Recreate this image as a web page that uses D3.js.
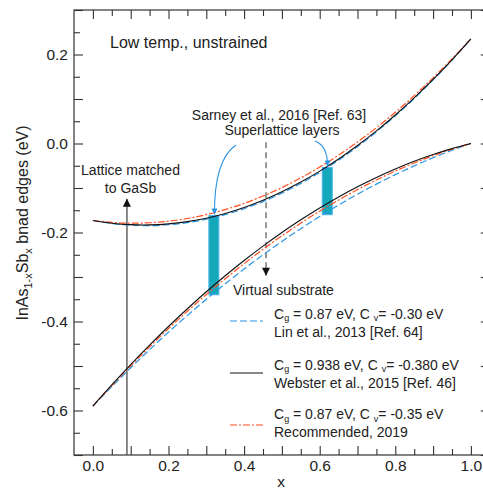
<!DOCTYPE html>
<html>
<head>
<meta charset="utf-8">
<script src="https://cdn.jsdelivr.net/npm/d3@7"></script>
<style>
  body { margin: 0; background: #fff; }
  svg { display: block; font-family: Arial, "Liberation Sans", sans-serif; }
  text { fill: #222; }
</style>
</head>
<body>
<svg id="chart"></svg>
<script>
// composition x
const xs = [0, 0.05, 0.1, 0.15, 0.2, 0.25, 0.3, 0.35, 0.4, 0.45, 0.5,
            0.55, 0.6, 0.65, 0.7, 0.75, 0.8, 0.85, 0.9, 0.95, 1.0]

// conduction band edge (eV)
const ecLin = [-0.173, -0.1797, -0.1835, -0.1845, -0.1826, -0.1779, -0.1703, -0.1599, -0.1466, -0.1305, -0.1115,
               -0.0897, -0.065, -0.0375, -0.0071, 0.0261, 0.0622, 0.1011, 0.1429, 0.1875, 0.235]
const ecWeb = [-0.173, -0.1791, -0.1824, -0.1829, -0.1807, -0.1756, -0.1678, -0.1571, -0.1437, -0.1275, -0.1085,
               -0.0867, -0.0621, -0.0347, -0.0046, 0.0284, 0.0641, 0.1027, 0.144, 0.1881, 0.235]
const ecRec = [-0.173, -0.1773, -0.179, -0.1781, -0.1746, -0.1685, -0.1598, -0.1485, -0.1346, -0.1181, -0.099,
               -0.0773, -0.053, -0.0261, 0.0034, 0.0355, 0.0702, 0.1075, 0.1474, 0.1899, 0.235]

// valence band edge (eV)
const evLin = [-0.59, -0.5463, -0.504, -0.4633, -0.424, -0.3863, -0.35, -0.3153, -0.282, -0.2503, -0.22,
               -0.1913, -0.164, -0.1383, -0.114, -0.0913, -0.07, -0.0503, -0.032, -0.0153, 0]
const evWeb = [-0.59, -0.5425, -0.4968, -0.4531, -0.4112, -0.3713, -0.3332, -0.2971, -0.2628, -0.2305, -0.2,
               -0.1715, -0.1448, -0.12, -0.0972, -0.0763, -0.0572, -0.04, -0.0248, -0.0115, 0]
const evRec = [-0.59, -0.5439, -0.4995, -0.4569, -0.416, -0.3769, -0.3395, -0.3039, -0.27, -0.2379, -0.2075,
               -0.1789, -0.152, -0.1269, -0.1035, -0.0819, -0.062, -0.0439, -0.0275, -0.0129, 0]

// superlattice layers (Sarney et al.)
const slX = [0.32, 0.62]
const slTop = [-0.162, -0.054]
const slBottom = [-0.340, -0.160]

const xLabelTicks = [0, 0.2, 0.4, 0.6, 0.8, 1.0]
const yLabelTicks = [-0.6, -0.4, -0.2, 0.0, 0.2]

const W = 483, H = 489
const colors = {lin: '#2b95e3', web: '#111', rec: '#ff4f1f', bar: '#15a8bb', barEdge: '#4db4ea', note: '#2b95e3'}
const dashLin = '7,3', dashRec = '7,2,2,2'

const svg = d3.select('#chart').attr('width', W).attr('height', H)

const x = d3.scaleLinear().domain([-0.05, 1.05]).range([74, 489.8])
const y = d3.scaleLinear().domain([-0.7, 0.3]).range([455, 10])

// defs: arrowheads
const defs = svg.append('defs')
function marker(id, color, w, h) {
    defs.append('marker')
        .attr('id', id)
        .attr('viewBox', '0 0 10 10')
        .attr('refX', 10).attr('refY', 5)
        .attr('markerUnits', 'userSpaceOnUse')
        .attr('markerWidth', w).attr('markerHeight', h)
        .attr('orient', 'auto')
        .append('path')
        .attr('d', 'M0,0 L10,5 L0,10 Z')
        .attr('fill', color)
}
marker('headBlack', '#111', 10, 8)
marker('headBlue', colors.note, 7, 6)

// ticks: major every 0.1 (long), minor every 0.05 (short)
const xMajor = d3.range(0, 11).map(i => i / 10)
const xMinor = d3.range(0, 11).map(i => i / 10 + 0.05).filter(v => v < 1.05)
const yMajor = d3.range(-7, 4).map(i => i / 10)
const yMinor = d3.range(-7, 3).map(i => i / 10 + 0.05)

const fmt = d => (xLabelTicks.some(t => Math.abs(t - d) < 1e-9) ? d.toFixed(1) : '')
const fmtY = d => (yLabelTicks.some(t => Math.abs(t - d) < 1e-9) ? d.toFixed(1) : '')

function styleAxis(g) {
    g.select('.domain').remove()
    g.selectAll('line').attr('stroke', '#333').attr('stroke-width', 1.1)
    g.selectAll('text').attr('font-size', 15.5).attr('fill', '#222').attr('font-family', 'Arial, "Liberation Sans", sans-serif')
}

svg.append('g').attr('transform', 'translate(0,455)')
    .call(d3.axisBottom(x).tickValues(xMajor).tickSize(-9).tickPadding(5).tickFormat(fmt)).call(styleAxis)
svg.append('g').attr('transform', 'translate(0,455)')
    .call(d3.axisBottom(x).tickValues(xMinor).tickSize(-6).tickFormat('')).call(styleAxis)
svg.append('g').attr('transform', 'translate(0,10)')
    .call(d3.axisTop(x).tickValues(xMajor).tickSize(-9).tickFormat('')).call(styleAxis)
svg.append('g').attr('transform', 'translate(0,10)')
    .call(d3.axisTop(x).tickValues(xMinor).tickSize(-6).tickFormat('')).call(styleAxis)

svg.append('g').attr('transform', 'translate(74,0)')
    .call(d3.axisLeft(y).tickValues(yMajor).tickSize(-9).tickPadding(6).tickFormat(fmtY)).call(styleAxis)
svg.append('g').attr('transform', 'translate(74,0)')
    .call(d3.axisLeft(y).tickValues(yMinor).tickSize(-6).tickFormat('')).call(styleAxis)
svg.append('g').attr('transform', 'translate(489.8,0)')
    .call(d3.axisRight(y).tickValues(yMajor).tickSize(-9).tickFormat('')).call(styleAxis)
svg.append('g').attr('transform', 'translate(489.8,0)')
    .call(d3.axisRight(y).tickValues(yMinor).tickSize(-6).tickFormat('')).call(styleAxis)

// frame
svg.append('rect')
    .attr('x', x(-0.05)).attr('y', y(0.3))
    .attr('width', x(1.05) - x(-0.05)).attr('height', y(-0.7) - y(0.3))
    .attr('fill', 'none').attr('stroke', '#333').attr('stroke-width', 1.2)

// lattice matched arrow (vertical, from bottom)
svg.append('line')
    .attr('x1', x(0.09)).attr('x2', x(0.09))
    .attr('y1', y(-0.7)).attr('y2', y(-0.124))
    .attr('stroke', '#555').attr('stroke-width', 1.4)
    .attr('marker-end', 'url(#headBlack)')

// virtual substrate dashed arrow
svg.append('line')
    .attr('x1', x(0.458)).attr('x2', x(0.458))
    .attr('y1', y(0.003)).attr('y2', y(-0.297))
    .attr('stroke', '#555').attr('stroke-width', 1.2)
    .attr('stroke-dasharray', '6,4')
    .attr('marker-end', 'url(#headBlack)')

// superlattice bars
svg.selectAll('rect.sl').data(slX).enter().append('rect')
    .attr('class', 'sl')
    .attr('x', (d) => x(d) - 5)
    .attr('width', 10)
    .attr('y', (d, i) => y(slTop[i]))
    .attr('height', (d, i) => y(slBottom[i]) - y(slTop[i]))
    .attr('fill', colors.bar)
    .attr('stroke', colors.barEdge).attr('stroke-width', 1)

// curves
const line = d3.line()
    .x((d, i) => x(xs[i]))
    .y(d => y(d))
    .curve(d3.curveCatmullRom)

const series = [
    {data: ecLin, color: colors.lin, dash: dashLin, w: 1.2},
    {data: evLin, color: colors.lin, dash: dashLin, w: 1.2},
    {data: ecRec, color: colors.rec, dash: dashRec, w: 1.2},
    {data: evRec, color: colors.rec, dash: dashRec, w: 1.2},
    {data: ecWeb, color: colors.web, dash: null, w: 1.1},
    {data: evWeb, color: colors.web, dash: null, w: 1.1}
]
series.forEach(s => {
    svg.append('path')
        .attr('fill', 'none')
        .attr('stroke', s.color)
        .attr('stroke-width', s.w)
        .attr('stroke-dasharray', s.dash)
        .attr('d', line(s.data))
})

// blue curved pointers to the superlattice layers
svg.append('path')
    .attr('d', 'M236,145 Q214,160 214.5,' + (y(slTop[0]) - 1))
    .attr('fill', 'none').attr('stroke', colors.note).attr('stroke-width', 1.1)
    .attr('marker-end', 'url(#headBlue)')
svg.append('path')
    .attr('d', 'M315,141 Q328,146 327.5,' + (y(slTop[1]) - 1))
    .attr('fill', 'none').attr('stroke', colors.note).attr('stroke-width', 1.1)
    .attr('marker-end', 'url(#headBlue)')

// texts
function txt(xp, yp, s, size, anchor) {
    return svg.append('text').attr('x', xp).attr('y', yp)
        .attr('font-size', size).attr('text-anchor', anchor || 'start').text(s)
}
txt(110, 48, 'Low temp., unstrained', 16)
txt(279, 120, 'Sarney et al., 2016 [Ref. 63]', 14, 'middle')
txt(282, 135, 'Superlattice layers', 14, 'middle')
txt(130.5, 175, 'Lattice matched', 14, 'middle')
txt(130.5, 193, 'to GaSb', 14, 'middle')
txt(233, 295, 'Virtual substrate', 14)

// legend
const legend = [
    {color: colors.lin, dash: dashLin, ly: 321, cg: '0.87', cv: '-0.30', ref: 'Lin et al., 2013 [Ref. 64]', t1: 318.5, t2: 337},
    {color: colors.web, dash: null, ly: 373, cg: '0.938', cv: '-0.380', ref: 'Webster et al., 2015 [Ref. 46]', t1: 369.5, t2: 387.5},
    {color: colors.rec, dash: dashRec, ly: 425, cg: '0.87', cv: '-0.35', ref: 'Recommended, 2019', t1: 419, t2: 437}
]
legend.forEach(l => {
    svg.append('line')
        .attr('x1', 230).attr('x2', 263).attr('y1', l.ly).attr('y2', l.ly)
        .attr('stroke', l.color).attr('stroke-width', 1.2)
        .attr('stroke-dasharray', l.dash)
    const t = svg.append('text').attr('x', 274).attr('y', l.t1).attr('font-size', 14)
    t.append('tspan').text('C')
    t.append('tspan').attr('font-size', 9).attr('dy', 2.5).text('g')
    t.append('tspan').attr('dy', -2.5).text(' = ' + l.cg + ' eV, C ')
    t.append('tspan').attr('font-size', 9).attr('dy', 2.5).text('v')
    t.append('tspan').attr('dy', -2.5).text('= ' + l.cv + ' eV')
    txt(274, l.t2, l.ref, 14)
})

// axis titles
svg.append('text').attr('x', 281).attr('y', 487).attr('font-size', 15.5)
    .attr('text-anchor', 'middle').text('x')

const yt = svg.append('text')
    .attr('transform', 'translate(28,223) rotate(-90)')
    .attr('font-size', 16).attr('text-anchor', 'middle')
yt.append('tspan').text('InAs')
yt.append('tspan').attr('font-size', 11).attr('dy', 4).text('1-x')
yt.append('tspan').attr('dy', -4).text('Sb')
yt.append('tspan').attr('font-size', 11).attr('dy', 4).text('x')
yt.append('tspan').attr('dy', -4).text(' bnad edges (eV)')
</script>
</body>
</html>
